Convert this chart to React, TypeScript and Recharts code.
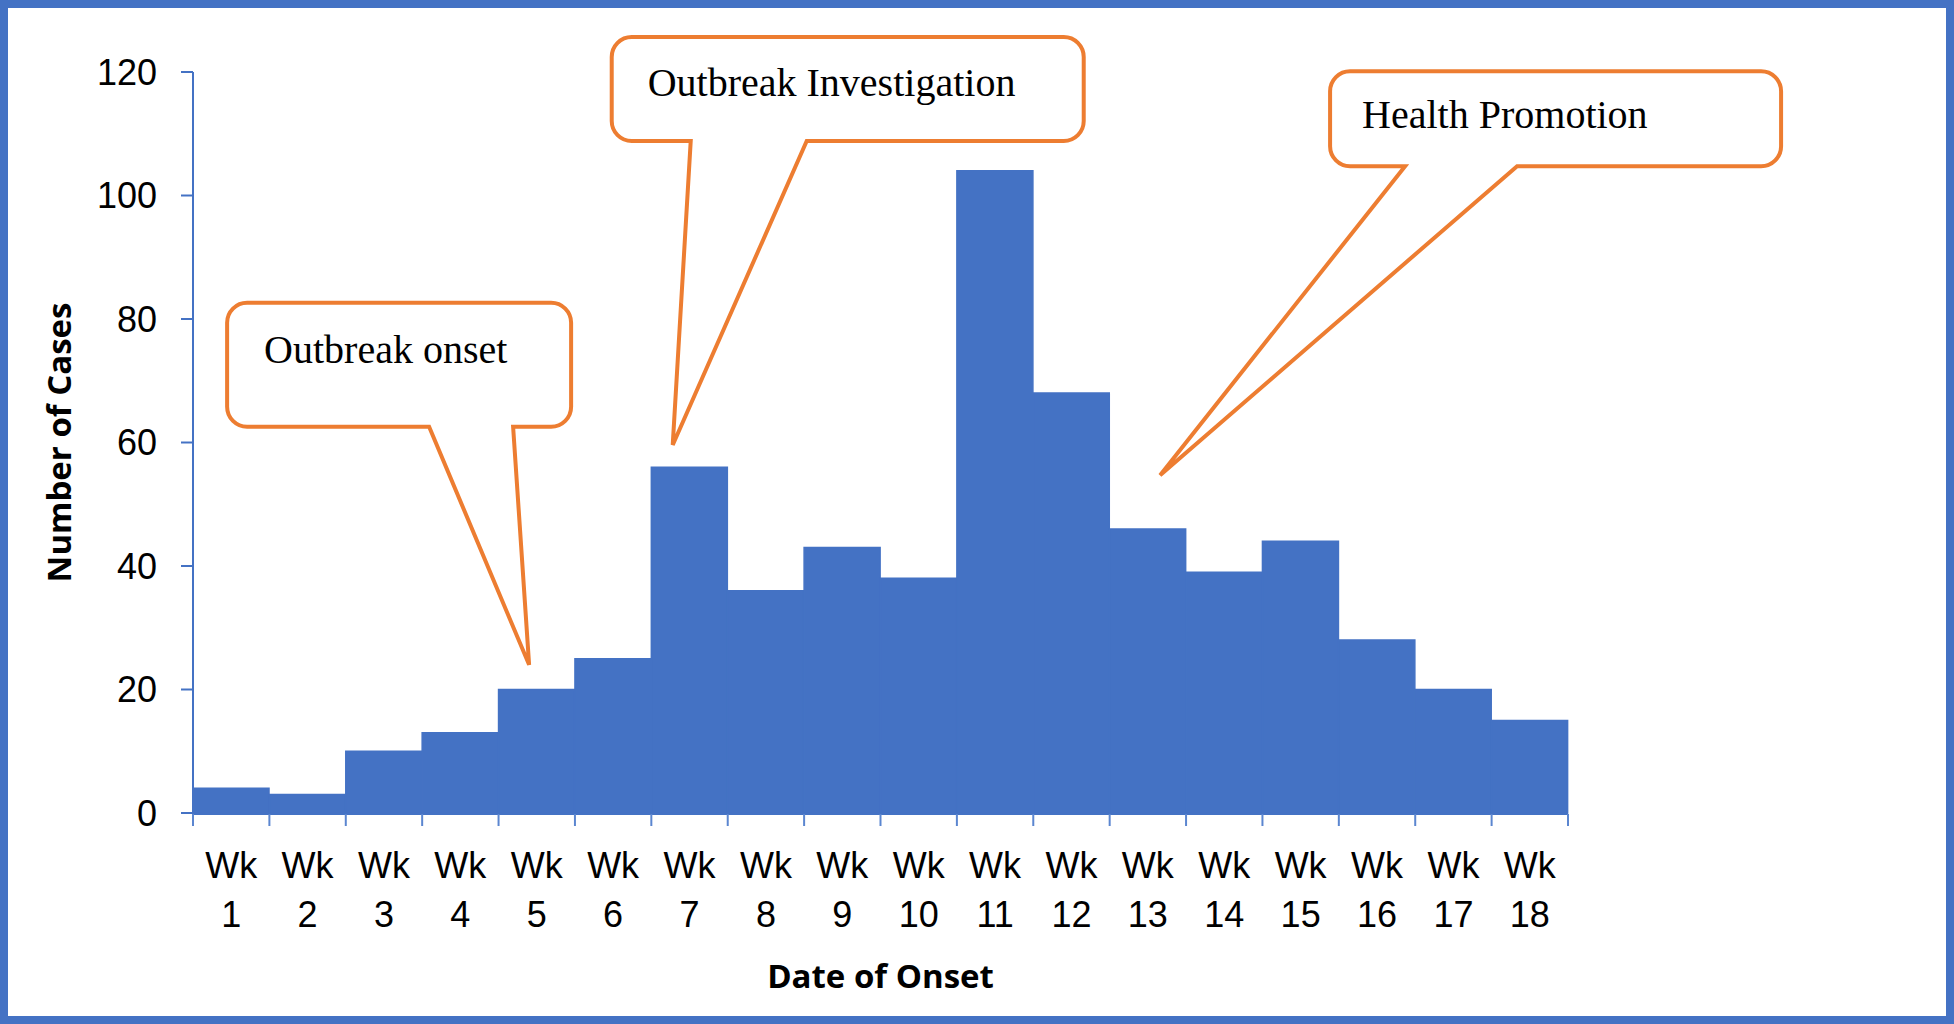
import React from 'react';
import { BarChart, Bar, XAxis, YAxis, ReferenceDot, Label } from 'recharts';

const weeks = [
  'Wk 1', 'Wk 2', 'Wk 3', 'Wk 4', 'Wk 5', 'Wk 6', 'Wk 7', 'Wk 8', 'Wk 9',
  'Wk 10', 'Wk 11', 'Wk 12', 'Wk 13', 'Wk 14', 'Wk 15', 'Wk 16', 'Wk 17', 'Wk 18',
];
const weekNumbers = [1, 2, 3, 4, 5, 6, 7, 8, 9, 10, 11, 12, 13, 14, 15, 16, 17, 18];
const cases = [4, 3, 10, 13, 20, 25, 56, 36, 43, 38, 104, 68, 46, 39, 44, 28, 20, 15];
const yTicks = [0, 20, 40, 60, 80, 100, 120];
const weekEdges = [0, 1, 2, 3, 4, 5, 6, 7, 8, 9, 10, 11, 12, 13, 14, 15, 16, 17, 18];

// callout texts and where their pointers land (week position, number of cases)
const calloutTexts = ['Outbreak onset', 'Outbreak Investigation', 'Health Promotion'];
const calloutTipWeek = [4.4, 6.28, 12.66];
const calloutTipCases = [24, 59.6, 54.7];

const data = weeks.map((week, i) => ({ week, weekNo: weekNumbers[i], cases: cases[i] }));

const BLUE = '#4472C4';
const ORANGE = '#ED7D31';
const TICK_FONT = '"Liberation Sans", Arial, sans-serif';
const TITLE_FONT = '"Open Sans", "Noto Sans", sans-serif';

// balloon box geometry, in pixels relative to the pointer tip
const balloonBoxes = [
  { l: -302, r: 42, t: -362, b: -238, b1: -100, b2: -16, tx: -265, ty: -302 },
  { l: -61, r: 411, t: -408, b: -304, b1: 18, b2: 134, tx: -25, ty: -349 },
  { l: 170, r: 621, t: -404, b: -309, b1: 245, b2: 357, tx: 202, ty: -347 },
];

function balloonPath(cx: number, cy: number, g: typeof balloonBoxes[0]) {
  const rad = 20;
  const l = cx + g.l, r = cx + g.r, t = cy + g.t, b = cy + g.b;
  const b1 = cx + g.b1, b2 = cx + g.b2;
  return `M${l + rad},${t} H${r - rad} A${rad},${rad} 0 0 1 ${r},${t + rad} V${b - rad} ` +
    `A${rad},${rad} 0 0 1 ${r - rad},${b} H${b2} L${cx},${cy} L${b1},${b} H${l + rad} ` +
    `A${rad},${rad} 0 0 1 ${l},${b - rad} V${t + rad} A${rad},${rad} 0 0 1 ${l + rad},${t} Z`;
}

const makeBalloon = (idx: number) => (props: any) => {
  const { cx, cy } = props;
  const g = balloonBoxes[idx];
  return (
    <g>
      <path d={balloonPath(cx, cy, g)} fill="#fff" stroke={ORANGE} strokeWidth={4} strokeLinejoin="miter" />
      <text
        x={cx + g.tx}
        y={cy + g.ty}
        fontFamily='"Liberation Serif", "Times New Roman", serif'
        fontSize={40}
        fill="#000"
      >
        {calloutTexts[idx]}
      </text>
    </g>
  );
};

const WeekTick = (props: any) => {
  const { x, y, payload } = props;
  const [wk, num] = String(payload.value).split(' ');
  return (
    <text x={x} textAnchor="middle" fontFamily={TICK_FONT} fontSize={36} fill="#000">
      <tspan x={x} y={y + 57}>{wk}</tspan>
      <tspan x={x} y={y + 106}>{num}</tspan>
    </text>
  );
};

const EmptyTick = () => <g />;

export default function App() {
  return (
    <div style={{ position: 'absolute', left: 0, top: 0, width: 1954, height: 1024, background: '#fff' }}>
      <BarChart
        width={1954}
        height={1024}
        data={data}
        margin={{ top: 72, right: 386, bottom: 209, left: 58 }}
        barCategoryGap={0}
        barGap={0}
      >
        <XAxis
          xAxisId="edges"
          dataKey="weekNo"
          type="number"
          domain={[0, 18]}
          allowDataOverflow
          ticks={weekEdges}
          interval={0}
          height={1}
          tick={EmptyTick}
          tickSize={12}
          axisLine={{ stroke: BLUE, strokeWidth: 2 }}
          tickLine={{ stroke: '#5B86D0', strokeWidth: 2 }}
        />
        <XAxis
          xAxisId="cat"
          dataKey="week"
          height={1}
          interval={0}
          axisLine={false}
          tickLine={false}
          tick={WeekTick}
        >
          <Label
            content={(p: any) => {
              const vb = p.viewBox || {};
              return (
                <text
                  x={vb.x + vb.width / 2}
                  y={vb.y + 175}
                  textAnchor="middle"
                  fontFamily={TITLE_FONT}
                  fontWeight="bold"
                  fontSize={33}
                  fill="#000"
                >
                  Date of Onset
                </text>
              );
            }}
          />
        </XAxis>
        <YAxis
          width={135}
          domain={[0, 120]}
          ticks={yTicks}
          interval={0}
          tickSize={12}
          tickMargin={24}
          axisLine={{ stroke: BLUE, strokeWidth: 2 }}
          tickLine={{ stroke: BLUE, strokeWidth: 2 }}
          tick={{ fill: '#000', fontSize: 36, fontFamily: TICK_FONT }}
        >
          <Label
            content={(p: any) => {
              const vb = p.viewBox || {};
              const cx = vb.x;
              const cy = vb.y + vb.height / 2;
              return (
                <text
                  x={cx}
                  y={cy}
                  transform={`rotate(-90 ${cx} ${cy})`}
                  textAnchor="middle"
                  dominantBaseline="central"
                  fontFamily={TITLE_FONT}
                  fontWeight="bold"
                  fontSize={33}
                  fill="#000"
                >
                  Number of Cases
                </text>
              );
            }}
          />
        </YAxis>
        <Bar
          dataKey="cases"
          xAxisId="cat"
          fill={BLUE}
          stroke={BLUE}
          strokeWidth={1.5}
          isAnimationActive={false}
        />
        {calloutTexts.map((_, i) => (
          <ReferenceDot
            key={i}
            xAxisId="edges"
            x={calloutTipWeek[i]}
            y={calloutTipCases[i]}
            ifOverflow="visible"
            shape={makeBalloon(i)}
          />
        ))}
      </BarChart>
      <div
        style={{
          position: 'absolute', left: 0, top: 0, width: 1954, height: 1024,
          boxSizing: 'border-box', border: `8px solid ${BLUE}`, pointerEvents: 'none',
        }}
      />
    </div>
  );
}
